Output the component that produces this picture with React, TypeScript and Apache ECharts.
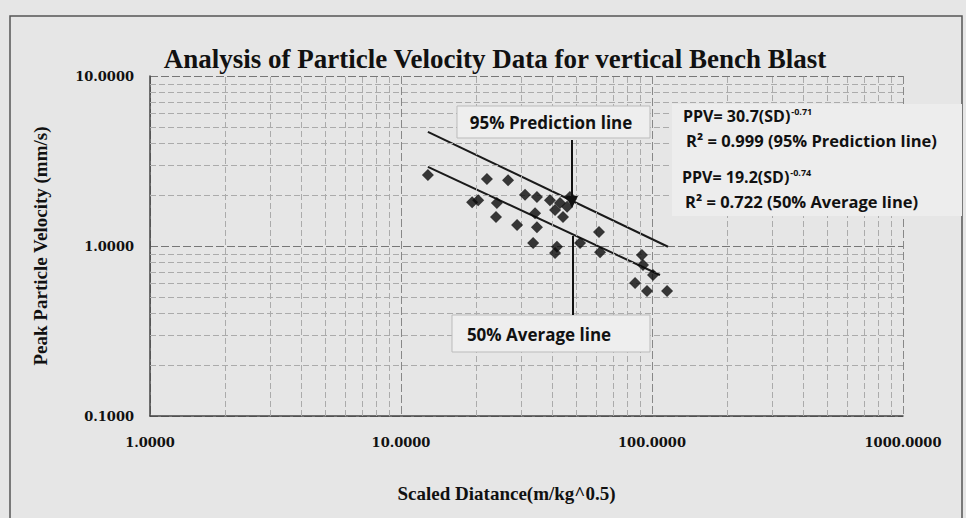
import React, { useEffect, useRef } from "react";
import * as echarts from "echarts";

// Scaled distance (m/kg^0.5) and PPV (mm/s) of the measured points
const sdValues = [12.8, 22.0, 26.7, 19.2, 20.3, 24.1, 31.2, 34.8, 23.9, 29.0, 34.2, 34.8, 33.6, 41.1, 43.0, 45.9, 44.2, 41.8, 41.1, 51.7, 61.5, 62.1, 39.2, 47.1, 91.2, 92.1, 100.9, 85.6, 95.5, 114.8];
const ppvValues = [2.62, 2.48, 2.44, 1.81, 1.86, 1.79, 2.0, 1.94, 1.48, 1.33, 1.56, 1.29, 1.04, 1.63, 1.79, 1.7, 1.48, 0.99, 0.91, 1.04, 1.21, 0.92, 1.86, 1.94, 0.885, 0.773, 0.675, 0.606, 0.543, 0.543];

// Fitted lines (end points)
const line95 = [[12.8, 4.69], [115.8, 0.99]];
const line50 = [[12.8, 2.92], [107.6, 0.675]];

// Minor grid values
const xMinor = [2, 3, 4, 5, 6, 7, 8, 9, 20, 30, 40, 50, 60, 70, 80, 90, 200, 300, 400, 500, 600, 700, 800, 900];
const yMinor = [0.2, 0.3, 0.4, 0.5, 0.6, 0.7, 0.8, 0.9, 2, 3, 4, 5, 6, 7, 8, 9];

const titleText = "Analysis of Particle Velocity Data for vertical Bench Blast";
const xName = "Scaled Diatance(m/kg^0.5)";
const yName = "Peak Particle Velocity (mm/s)";

export default function App() {
  const ref = useRef<HTMLDivElement>(null);
  useEffect(() => {
    document.body.style.margin = "0";
    const chart = echarts.init(ref.current!, null, { renderer: "svg" });
    const serif = "'Liberation Serif', 'DejaVu Serif', serif";
    const wideSerif = "'DejaVu Serif', serif";
    const sans = "'Open Sans', 'Liberation Sans', sans-serif";
    const pts = sdValues.map((x, i) => [x, ppvValues[i]]);
    const minorStyle = { color: "#ababab", type: [6, 3] as any, width: 1 };
    const eqRich = {
      a: { font: `bold 16px ${sans}`, fill: "#111", lineHeight: 18 },
      s: { font: `bold 9px ${sans}`, fill: "#111", verticalAlign: "top", lineHeight: 18, padding: [0, 0, 0, 1] },
    };
    chart.setOption({
      animation: false,
      backgroundColor: "#e6e6e6",
      title: {
        text: titleText,
        left: 490,
        top: 40,
        textAlign: "center",
        textStyle: { fontFamily: serif, fontSize: 27, fontWeight: "bold", color: "#111" },
      },
      grid: { left: 150, right: 63, top: 76, bottom: 102 },
      xAxis: {
        type: "log",
        logBase: 10,
        min: 1,
        max: 1000,
        name: xName,
        nameLocation: "middle",
        nameGap: 68,
        nameTextStyle: { fontFamily: serif, fontSize: 19, fontWeight: "bold", color: "#111", padding: [0, 40, 0, 0] },
        axisLine: { lineStyle: { color: "#444", width: 1.5 } },
        axisTick: { show: false },
        axisLabel: {
          margin: 20,
          fontFamily: wideSerif,
          fontSize: 13,
          fontWeight: "bold",
          color: "#111",
          formatter: (v: number) => v.toFixed(4),
        },
        splitLine: { show: true, lineStyle: { color: "#888", type: [8, 3], width: 1 } },
      },
      yAxis: {
        type: "log",
        logBase: 10,
        min: 0.1,
        max: 10,
        name: yName,
        nameLocation: "middle",
        nameGap: 100,
        nameTextStyle: { fontFamily: serif, fontSize: 19, fontWeight: "bold", color: "#111" },
        axisLine: { show: true, lineStyle: { color: "#444", width: 1.5 } },
        axisTick: { show: false },
        axisLabel: {
          margin: 16,
          fontFamily: wideSerif,
          fontSize: 13,
          fontWeight: "bold",
          color: "#111",
          formatter: (v: number) => v.toFixed(4),
        },
        splitLine: { show: true, lineStyle: { color: "#777", type: [8, 3], width: 1.2 } },
      },
      series: [
        {
          type: "scatter",
          data: [],
          silent: true,
          markLine: {
            silent: true,
            symbol: ["none", "none"],
            label: { show: false },
            lineStyle: minorStyle,
            data: [
              ...xMinor.map((v) => ({ xAxis: v })),
              ...yMinor.map((v) => ({ yAxis: v })),
            ],
          },
        },
        {
          type: "scatter",
          data: pts,
          symbol: "diamond",
          symbolSize: 12,
          itemStyle: { color: "#0a0a0a" },
          z: 5,
        },
        {
          type: "line",
          data: line95,
          symbol: "none",
          lineStyle: { color: "#1a1a1a", width: 2 },
          z: 4,
        },
        {
          type: "line",
          data: line50,
          symbol: "none",
          lineStyle: { color: "#1a1a1a", width: 2 },
          z: 4,
        },
      ],
      graphic: [
        {
          type: "rect",
          shape: { x: 10, y: 16, width: 952, height: 520 },
          style: { fill: "none", stroke: "#555", lineWidth: 1.5 },
          silent: true,
        },
        {
          type: "rect",
          shape: { x: 457, y: 106, width: 193, height: 32 },
          style: { fill: "#eeeeee", stroke: "#bbb", lineWidth: 1 },
          z: 10,
        },
        {
          type: "text",
          x: 551,
          y: 122,
          style: { text: "95% Prediction line", font: `bold 17px ${sans}`, fill: "#111", align: "center", verticalAlign: "middle" },
          z: 11,
        },
        {
          type: "line",
          shape: { x1: 572, y1: 140, x2: 572, y2: 200 },
          style: { stroke: "#111", lineWidth: 2 },
          z: 11,
        },
        {
          type: "polygon",
          shape: { points: [[566, 196], [578, 196], [572, 208]] },
          style: { fill: "#111" },
          z: 11,
        },
        {
          type: "rect",
          shape: { x: 452, y: 315, width: 198, height: 37 },
          style: { fill: "#eeeeee", stroke: "#bbb", lineWidth: 1 },
          z: 10,
        },
        {
          type: "text",
          x: 539,
          y: 334,
          style: { text: "50% Average line", font: `bold 17px ${sans}`, fill: "#111", align: "center", verticalAlign: "middle" },
          z: 11,
        },
        {
          type: "line",
          shape: { x1: 573, y1: 236, x2: 573, y2: 315 },
          style: { stroke: "#111", lineWidth: 2 },
          z: 11,
        },
        {
          type: "rect",
          shape: { x: 672, y: 104, width: 290, height: 112 },
          style: { fill: "#ededed", stroke: "none" },
          z: 10,
        },
        {
          type: "text",
          x: 683,
          y: 116,
          style: { text: "{a|PPV= 30.7(SD)}{s|-0.71}", verticalAlign: "middle", rich: eqRich },
          z: 11,
        },
        {
          type: "text",
          x: 686,
          y: 140,
          style: { text: "R² = 0.999 (95% Prediction line)", font: `bold 16.5px ${sans}`, fill: "#111", verticalAlign: "middle" },
          z: 11,
        },
        {
          type: "text",
          x: 682,
          y: 177,
          style: { text: "{a|PPV= 19.2(SD)}{s|-0.74}", verticalAlign: "middle", rich: eqRich },
          z: 11,
        },
        {
          type: "text",
          x: 685,
          y: 201,
          style: { text: "R² = 0.722 (50% Average line)", font: `bold 16.5px ${sans}`, fill: "#111", verticalAlign: "middle" },
          z: 11,
        },
      ],
    });
    return () => chart.dispose();
  }, []);
  return <div ref={ref} style={{ width: 966, height: 518 }} />;
}
